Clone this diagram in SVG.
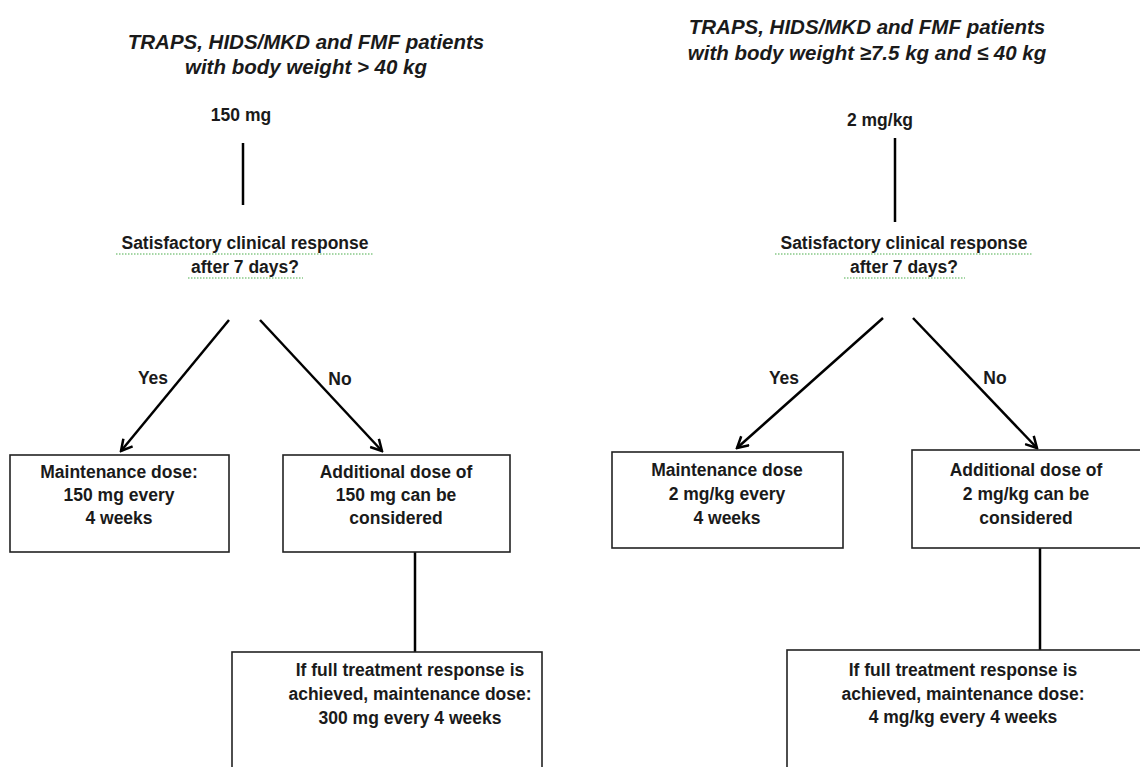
<svg xmlns="http://www.w3.org/2000/svg" width="1140" height="767" viewBox="0 0 1140 767">
<defs>
<marker id="ah" markerWidth="14" markerHeight="14" refX="12" refY="7" orient="auto" markerUnits="userSpaceOnUse">
<path d="M1,1 L12,7 L1,13" fill="none" stroke="#000" stroke-width="2.5"/>
</marker>
</defs>
<style>
text{font-family:"Liberation Sans",Arial,sans-serif;font-weight:bold;fill:#1a1a1a;text-anchor:middle;font-size:17.5px}
.title{font-style:italic;font-size:20.5px}
.box{fill:#fff;stroke:#222;stroke-width:1.6}
.ln{stroke:#000;stroke-width:2.5;fill:none}
.wv{fill:none;stroke:#4cae4c;stroke-width:1.2;stroke-dasharray:1.5 1.5}
</style>
<rect width="1140" height="767" fill="#fff"/>

<g id="left-title">
<text class="title" x="306" y="49">TRAPS, HIDS/MKD and FMF patients</text>
<text class="title" x="306" y="74">with body weight &gt; 40 kg</text>
</g>
<g id="right-title">
<text class="title" x="867" y="34">TRAPS, HIDS/MKD and FMF patients</text>
<text class="title" x="867" y="60">with body weight ≥7.5 kg and ≤ 40 kg</text>
</g>

<g id="left-dose"><text x="241" y="121">150 mg</text></g>
<g id="right-dose"><text x="880" y="126">2 mg/kg</text></g>

<g id="left-question">
<text x="245" y="249">Satisfactory clinical response</text>
<text x="245" y="273">after 7 days?</text>
<path class="wv" d="M116,254 H373 M188,278 H303"/>
</g>
<g id="right-question">
<text x="904" y="249">Satisfactory clinical response</text>
<text x="904" y="273">after 7 days?</text>
<path class="wv" d="M775,254 H1033 M844,278 H965"/>
</g>

<g id="connectors">
<line class="ln" x1="243" y1="143" x2="243" y2="205"/>
<line class="ln" x1="895" y1="138" x2="895" y2="222"/>
<line class="ln" x1="229" y1="320" x2="121" y2="451" marker-end="url(#ah)"/>
<line class="ln" x1="260" y1="320" x2="382" y2="451" marker-end="url(#ah)"/>
<line class="ln" x1="883" y1="318" x2="737" y2="448" marker-end="url(#ah)"/>
<line class="ln" x1="913" y1="318" x2="1037" y2="448" marker-end="url(#ah)"/>
<line class="ln" x1="415" y1="552" x2="415" y2="652"/>
<line class="ln" x1="1040" y1="548" x2="1040" y2="650"/>
<text x="153" y="384">Yes</text>
<text x="340" y="385">No</text>
<text x="784" y="384">Yes</text>
<text x="995" y="384">No</text>
</g>

<g id="left-maintenance">
<rect class="box" x="10" y="455" width="219" height="97"/>
<text x="119" y="478">Maintenance dose:</text>
<text x="119" y="501">150 mg every</text>
<text x="119" y="524">4 weeks</text>
</g>
<g id="left-additional">
<rect class="box" x="283" y="455" width="227" height="97"/>
<text x="396" y="478">Additional dose of</text>
<text x="396" y="501">150 mg can be</text>
<text x="396" y="524">considered</text>
</g>
<g id="right-maintenance">
<rect class="box" x="612" y="452" width="231" height="96"/>
<text x="727" y="476">Maintenance dose</text>
<text x="727" y="500">2 mg/kg every</text>
<text x="727" y="524">4 weeks</text>
</g>
<g id="right-additional">
<rect class="box" x="912" y="450" width="235" height="98"/>
<text x="1026" y="476">Additional dose of</text>
<text x="1026" y="500">2 mg/kg can be</text>
<text x="1026" y="524">considered</text>
</g>
<g id="left-full">
<rect class="box" x="232" y="652" width="310" height="130"/>
<text x="410" y="676">If full treatment response is</text>
<text x="410" y="700">achieved, maintenance dose:</text>
<text x="410" y="724">300 mg every 4 weeks</text>
</g>
<g id="right-full">
<rect class="box" x="787" y="650" width="360" height="130"/>
<text x="963" y="676">If full treatment response is</text>
<text x="963" y="700">achieved, maintenance dose:</text>
<text x="963" y="723">4 mg/kg every 4 weeks</text>
</g>
</svg>
